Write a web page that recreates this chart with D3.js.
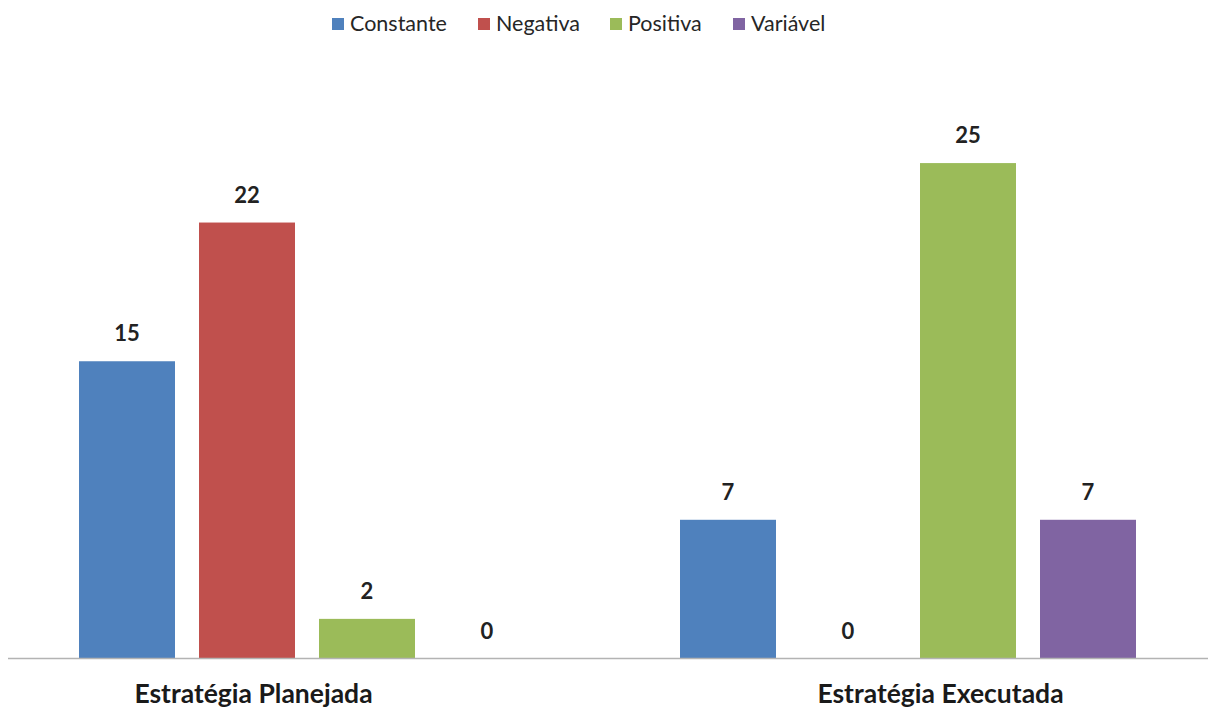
<!DOCTYPE html>
<html>
<head>
<meta charset="utf-8">
<script src="https://cdn.jsdelivr.net/npm/d3@7"></script>
<style>
  html, body { margin: 0; padding: 0; background: #fff; }
  svg { display: block; font-family: Lato, "Open Sans", sans-serif; }
</style>
</head>
<body>
<svg id="chart" width="1208" height="711"></svg>
<script>
// Categories, series and values
const categories = ["Estratégia Planejada", "Estratégia Executada"];
const seriesNames = ["Constante", "Negativa", "Positiva", "Variável"];
const seriesColors = ["#4F81BD", "#C0504D", "#9BBB59", "#8064A2"];
const constante = [15, 7];
const negativa = [22, 0];
const positiva = [2, 25];
const variavel = [0, 7];
const seriesValues = [constante, negativa, positiva, variavel];
// horizontal nudge of each category label from its band centre
const categoryLabelShift = [-55, 31];

const rows = categories.map((c, i) => ({
  category: c,
  values: seriesNames.map((s, j) => ({ series: s, value: seriesValues[j][i], color: seriesColors[j] }))
}));

const svg = d3.select("#chart");
const plot = { left: 8, right: 1210, top: 64, bottom: 658.5 };

const x0 = d3.scaleBand().domain(categories).range([plot.left, plot.right]);
const x1 = d3.scaleBand().domain(seriesNames).range([59, 539]).paddingInner(0.2).paddingOuter(0.1);
const y = d3.scaleLinear().domain([0, 30]).range([plot.bottom, plot.top]);

// bars
const groups = svg.append("g").selectAll("g").data(rows).join("g")
  .attr("transform", d => `translate(${x0(d.category)},0)`);

groups.selectAll("rect").data(d => d.values.filter(v => v.value > 0)).join("rect")
  .attr("x", d => x1(d.series))
  .attr("y", d => y(d.value))
  .attr("width", x1.bandwidth())
  .attr("height", d => y(0) - y(d.value))
  .attr("fill", d => d.color);

// value labels
groups.selectAll("text").data(d => d.values).join("text")
  .attr("x", d => x1(d.series) + x1.bandwidth() / 2)
  .attr("y", d => y(d.value) - 20)
  .attr("text-anchor", "middle")
  .attr("font-size", 22)
  .attr("font-weight", "bold")
  .attr("fill", "#222")
  .text(d => d.value);

// category axis
svg.append("line")
  .attr("x1", plot.left).attr("x2", plot.right)
  .attr("y1", y(0)).attr("y2", y(0))
  .attr("stroke", "#B3B3B3").attr("stroke-width", 1.5);

svg.append("g").selectAll("text").data(categories).join("text")
  .attr("x", (d, i) => x0(d) + x0.bandwidth() / 2 + categoryLabelShift[i])
  .attr("y", 703)
  .attr("text-anchor", "middle")
  .attr("font-size", 26.5)
  .attr("font-weight", "bold")
  .attr("fill", "#1a1a1a")
  .text(d => d);

// legend
const legendStarts = [332, 478, 610, 733];
const legend = svg.append("g").selectAll("g").data(seriesNames).join("g")
  .attr("transform", (d, i) => `translate(${legendStarts[i]},0)`);
legend.append("rect")
  .attr("x", 0).attr("y", 18).attr("width", 12).attr("height", 12)
  .attr("fill", (d, i) => seriesColors[i]);
legend.append("text")
  .attr("x", 18).attr("y", 31)
  .attr("font-size", 21.5)
  .attr("fill", "#262626")
  .text(d => d);
</script>
</body>
</html>
